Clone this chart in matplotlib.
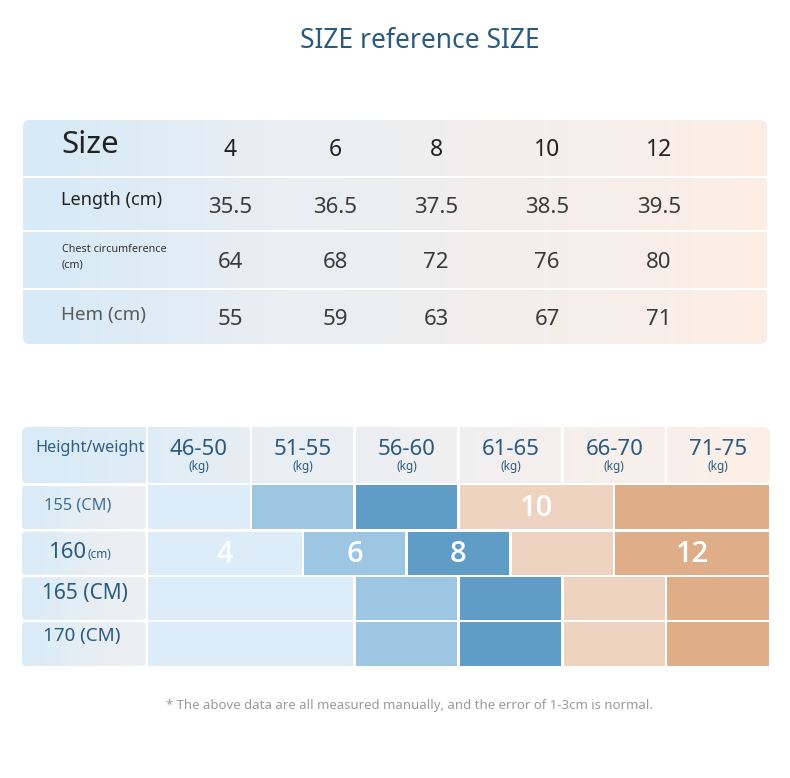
import numpy as np
import matplotlib
matplotlib.use("Agg")
import matplotlib.pyplot as plt
from matplotlib.colors import to_rgb
from matplotlib.patches import FancyBboxPatch, Rectangle

plt.rcParams['font.family'] = ['Noto Sans', 'DejaVu Sans']

# ---------------- data ----------------
title = "SIZE reference SIZE"
sizes = ["4", "6", "8", "10", "12"]
length_cm = ["35.5", "36.5", "37.5", "38.5", "39.5"]
chest_cm = ["64", "68", "72", "76", "80"]
hem_cm = ["55", "59", "63", "67", "71"]

weight_ranges = ["46-50", "51-55", "56-60", "61-65", "66-70", "71-75"]
heights = ["155", "160", "165", "170"]
# width of each size block per height row, in weight-column units (sizes 4,6,8,10,12)
span_155 = [1, 1, 1, 1.5, 1.5]
span_160 = [1.5, 1, 1, 1, 1.5]
span_165 = [2, 1, 1, 1, 1]
span_170 = [2, 1, 1, 1, 1]
# which size is labelled in which row
label_155 = ["", "", "", "10", ""]
label_160 = ["4", "6", "8", "", "12"]
label_165 = ["", "", "", "", ""]
label_170 = ["", "", "", "", ""]
footnote = "* The above data are all measured manually, and the error of 1-3cm is normal."

size_colors = ["#dcedf9", "#9cc6e1", "#5f9dc7", "#eed3c1", "#dfad88"]

# ---------------- figure ----------------
W, H = 790, 778
fig = plt.figure(figsize=(W / 100, H / 100), dpi=100)
ax = fig.add_axes([0, 0, 1, 1])
ax.axis("off")


def hgrad(x0, x1, y0, y1, colors, radius=0.0, z=1):
    n = max(int(round(x1 - x0)), 2)
    t = np.linspace(0, 1, n)
    stops = np.linspace(0, 1, len(colors))
    rgb = np.array([to_rgb(c) for c in colors])
    arr = np.stack([np.interp(t, stops, rgb[:, j]) for j in range(3)], axis=-1)
    arr = arr.reshape(1, n, 3)
    im = ax.imshow(arr, extent=(x0, x1, y1, y0), aspect="auto",
                   interpolation="nearest", zorder=z)
    patch = FancyBboxPatch((x0, y0), x1 - x0, y1 - y0,
                           boxstyle=f"round,pad=0,rounding_size={radius}",
                           facecolor="none", edgecolor="none", transform=ax.transData)
    ax.add_patch(patch)
    im.set_clip_path(patch)
    return im


# title
ax.text(420, 41, title, ha="center", va="center", fontsize=19, color="#2a5a80")

# ---------------- top table ----------------
tx0, tx1 = 23, 767
hgrad(tx0, tx1, 120, 344, ["#d6eaf8", "#e9eef3", "#f3efed", "#fdeee5"], radius=7)
for yb in [177, 231, 289]:
    ax.add_patch(Rectangle((tx0, yb - 1.2), tx1 - tx0, 2.4, facecolor="white",
                           edgecolor="none", zorder=2))

col_x = [230, 335, 436, 547, 659]
ax.text(61, 145, "Size", ha="left", va="center", fontsize=22.5, color="#222222", zorder=3)
for x, s in zip(col_x, sizes):
    ax.text(x, 150, s, ha="center", va="center", fontsize=16.5, color="#222222", zorder=3)
ax.text(61, 200, "Length (cm)", ha="left", va="center", fontsize=13, color="#222222", zorder=3)
ax.text(62, 249, "Chest circumference", ha="left", va="center", fontsize=7.8, color="#333333", zorder=3)
ax.text(62, 265, "(cm)", ha="left", va="center", fontsize=7.8, color="#333333", zorder=3)
ax.text(61, 315, "Hem (cm)", ha="left", va="center", fontsize=13.5, color="#5a5a5a", zorder=3)
for vals, y in [(length_cm, 207), (chest_cm, 263), (hem_cm, 319)]:
    for x, v in zip(col_x, vals):
        ax.text(x, y, v, ha="center", va="center", fontsize=16, color="#3a3a3a",
                fontweight="light", zorder=3)

# ---------------- bottom grid ----------------
gx0, gx1 = 22, 770
lab_x1 = 147
colw = (gx1 - lab_x1) / len(weight_ranges)
hy0, hy1 = 427, 484
body_rows = [(484, 530.5), (530.5, 576), (576, 621), (621, 667)]

# header
hgrad(gx0, gx1, hy0, hy1, ["#d8ebf8", "#e8eef3", "#f3f0ef", "#fdefe7"], radius=7)
ax.add_patch(Rectangle((gx0, hy1 - 1.5), gx1 - gx0, 3, facecolor="white", edgecolor="none", zorder=2))
for i in range(len(weight_ranges)):
    xl = lab_x1 + i * colw
    ax.add_patch(Rectangle((xl - 1.2, hy0), 2.4, hy1 - hy0, facecolor="white",
                           edgecolor="none", zorder=2))
ax.text(90, 448, "Height/weight", ha="center", va="center", fontsize=11.7, color="#2e5f86", zorder=3)
for i, w in enumerate(weight_ranges):
    cx = lab_x1 + (i + 0.5) * colw
    ax.text(cx, 449, w, ha="center", va="center", fontsize=16, color="#2a5a80", zorder=3)
    ax.text(cx, 466, "(kg)", ha="center", va="center", fontsize=8.5, color="#2a5a80", zorder=3)

# row label cells
for (y0, y1) in body_rows:
    hgrad(gx0, lab_x1 - 1.2, y0 + 1.2, y1 - 1.2, ["#d8ebf8", "#e6eef4", "#eeeff1"], radius=4)

ax.text(78, 506, heights[0] + " (CM)", ha="center", va="center", fontsize=11.8, color="#3f6d93", zorder=3)
ax.text(86, 552, heights[1], ha="right", va="center", fontsize=16, color="#2a5a80", zorder=3)
ax.text(87, 555, "(cm)", ha="left", va="center", fontsize=8.5, color="#2a5a80", zorder=3)
ax.text(85, 593, heights[2] + " (CM)", ha="center", va="center", fontsize=15, color="#2a5a80", zorder=3)
ax.text(82, 636, heights[3] + " (CM)", ha="center", va="center", fontsize=13.5, color="#2a5a80", zorder=3)

spans = [span_155, span_160, span_165, span_170]
labels = [label_155, label_160, label_165, label_170]
for (y0, y1), sp, lb in zip(body_rows, spans, labels):
    left = 0.0
    for k, (w, t) in enumerate(zip(sp, lb)):
        xa = lab_x1 + left * colw
        xb = lab_x1 + (left + w) * colw
        ax.add_patch(Rectangle((xa + 1.2, y0 + 1.2), xb - xa - 2.4, y1 - y0 - 2.4,
                               facecolor=size_colors[k], edgecolor="none", zorder=2))
        if t:
            ax.text((xa + xb) / 2, (y0 + y1) / 2 + 1, t, ha="center", va="center",
                    fontsize=21, color="white", fontweight="semibold",
                    family=["Open Sans", "DejaVu Sans"], zorder=3)
        left += w

ax.text(410, 705, footnote, ha="center", va="center", fontsize=9.5, color="#9a9a9a", zorder=3)

ax.set_xlim(0, W)
ax.set_ylim(H, 0)
fig.savefig("out.png", dpi=100, facecolor="white")
